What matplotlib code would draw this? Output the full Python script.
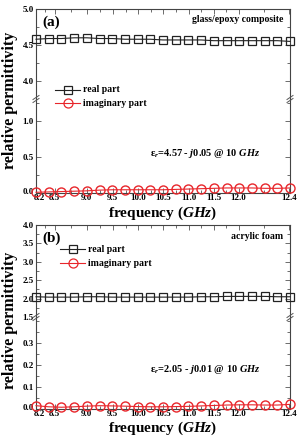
import matplotlib
matplotlib.use("Agg")
import matplotlib.pyplot as plt
import matplotlib.transforms as mtransforms
import numpy as np
from matplotlib.ticker import FixedLocator, MultipleLocator

plt.rcParams['font.family'] = ['Liberation Serif', 'DejaVu Serif']
plt.rcParams['font.weight'] = 'bold'
plt.rcParams['mathtext.fontset'] = 'custom'
plt.rcParams['mathtext.rm'] = 'Liberation Serif:bold'
plt.rcParams['mathtext.it'] = 'Liberation Serif:bold:italic'
plt.rcParams['mathtext.bf'] = 'Liberation Serif:bold'

# ---- data ----
freq = [8.2, 8.41, 8.62, 8.83, 9.04, 9.25, 9.46, 9.67, 9.88, 10.09, 10.3,
        10.51, 10.72, 10.93, 11.14, 11.35, 11.56, 11.77, 11.98, 12.19, 12.4]

glass_real = [4.58, 4.59, 4.59, 4.60, 4.60, 4.59, 4.59, 4.58, 4.58, 4.58, 4.57,
              4.57, 4.57, 4.57, 4.56, 4.56, 4.56, 4.56, 4.56, 4.56, 4.55]
glass_imag = [0.010, 0.015, 0.020, 0.025, 0.030, 0.040, 0.045, 0.045, 0.045, 0.045, 0.045,
              0.050, 0.055, 0.060, 0.065, 0.070, 0.070, 0.070, 0.065, 0.065, 0.070]

foam_real = [2.05, 2.04, 2.04, 2.04, 2.05, 2.05, 2.04, 2.04, 2.04, 2.04, 2.04,
             2.04, 2.04, 2.05, 2.05, 2.06, 2.06, 2.06, 2.06, 2.05, 2.05]
foam_imag = [0.015, 0.010, 0.008, 0.010, 0.013, 0.015, 0.014, 0.013, 0.011, 0.010, 0.010,
             0.011, 0.012, 0.014, 0.016, 0.018, 0.019, 0.019, 0.018, 0.018, 0.021]

xtick_pos = [8.2, 8.51, 9.04, 9.47, 9.89, 10.30, 10.73, 11.14, 11.55, 12.38]
xtick_labels = ['8.2', '8.5', '9.0', '9.5', '10.0', '10.5', '11.0', '11.5', '12.0', '12.4']

RED = '#e8262b'
W, H = 299, 437
fig = plt.figure(figsize=(W / 100, H / 100), dpi=100)

def fx(px):
    return px / W

def fy(py):
    return 1 - py / H

left, right = 36, 290

def make_panel(top_px, brk_px, bot_px, up_lim, low_lim, up_major, up_minor,
               low_major, low_minor, real, imag, label, material, note,
               leg_y, leg_x, label_y, freq_y):
    ax_u = fig.add_axes([fx(left), fy(brk_px), fx(right - left), (brk_px - top_px) / H])
    ax_l = fig.add_axes([fx(left), fy(bot_px), fx(right - left), (bot_px - brk_px) / H])
    for ax in (ax_u, ax_l):
        ax.set_xlim(8.2, 12.4)
        ax.xaxis.set_major_locator(FixedLocator(xtick_pos))
        mids = [(a + b) / 2 for a, b in zip(xtick_pos[:-1], xtick_pos[1:])]
        ax.xaxis.set_minor_locator(FixedLocator(mids))
        ax.tick_params(which='both', direction='in', top=True, right=True,
                       labelsize=6.5, width=0.6, color='#555555')
        ax.tick_params(which='major', length=3.5)
        ax.tick_params(which='minor', length=2)
        for s in ax.spines.values():
            s.set_linewidth(0.8)
            s.set_color('#444444')
    ax_u.plot(freq, real, '-s', color='#222222', mfc='none', mec='#222222',
              ms=6, mew=0.9, lw=0.8, clip_on=False, zorder=3)
    ax_l.plot(freq, imag, '-o', color=RED, mfc='none', mec=RED,
              ms=6.5, mew=1.0, lw=0.8, clip_on=False, zorder=3)
    ax_u.set_ylim(*up_lim)
    ax_l.set_ylim(*low_lim)
    ax_u.yaxis.set_major_locator(FixedLocator(up_major))
    ax_u.yaxis.set_minor_locator(MultipleLocator(up_minor))
    ax_l.yaxis.set_major_locator(FixedLocator(low_major))
    ax_l.yaxis.set_minor_locator(MultipleLocator(low_minor))
    ax_u.yaxis.set_major_formatter('{x:.1f}')
    ax_l.yaxis.set_major_formatter('{x:.1f}')
    ax_u.spines['bottom'].set_visible(False)
    ax_l.spines['top'].set_visible(False)
    ax_u.tick_params(which='both', bottom=False, labelbottom=False)
    ax_l.tick_params(which='both', top=False)
    ax_l.set_xticklabels(xtick_labels)
    for t in ax_l.get_xticklabels() + ax_l.get_yticklabels() + ax_u.get_yticklabels():
        t.set_fontweight('bold')
    ax_l.tick_params(axis='x', pad=1)
    ax_l.tick_params(axis='y', pad=1.5)
    ax_u.tick_params(axis='y', pad=1.5)
    # nudge corner labels apart
    off = mtransforms.ScaledTranslation(3 / 100, 0, fig.dpi_scale_trans)
    lab0 = ax_l.get_xticklabels()[0]
    lab0.set_transform(lab0.get_transform() + off)
    offy = mtransforms.ScaledTranslation(0, 1.5 / 100, fig.dpi_scale_trans)
    ylab0 = ax_l.get_yticklabels()[0]
    ylab0.set_transform(ylab0.get_transform() + offy)
    # break marks
    for xp in (left, right):
        for dy in (-1.5, 1.5):
            fig.add_artist(plt.Line2D([fx(xp - 3), fx(xp + 3)],
                                      [fy(brk_px + dy + 2), fy(brk_px + dy - 2)],
                                      color='#555555', lw=0.7))
    # texts
    fig.text(fx(42), fy(top_px + 13), label, fontsize=11, fontweight='bold', va='center')
    fig.text(fx(283), fy(top_px + 11), material, fontsize=7, fontweight='bold',
             ha='right', va='center')
    fig.text(fx(150), fy(note[1]), note[0], fontsize=7.5, fontweight='bold', va='center')
    # legend
    for i, (mk, col, txt) in enumerate([('s', '#222222', 'real part'),
                                         ('o', RED, 'imaginary part')]):
        yy = fy(leg_y[i])
        fig.add_artist(plt.Line2D([fx(leg_x), fx(leg_x + 25)], [yy, yy], color=col, lw=0.8))
        fig.add_artist(plt.Line2D([fx(leg_x + 12.5)], [yy], marker=mk, color=col,
                                  mfc='none', mec=col, ms=6 if mk == 's' else 6.5, mew=0.9))
        fig.text(fx(leg_x + 28), yy, txt, fontsize=7, fontweight='bold', va='center')
    fig.text(fx(10), fy(label_y), 'relative permittivity', rotation=90, fontsize=11.5,
             fontweight='bold', ha='center', va='center')
    fig.text(fx(163), fy(freq_y), r'frequency ($GHz$)', fontsize=11, fontweight='bold',
             ha='center', va='center')

make_panel(9, 99, 193, (3.75, 5.0), (0, 1.306), [4.0, 4.5, 5.0], 0.25,
           [0.0, 0.5, 1.0], 0.25,
           glass_real, glass_imag, '(a)', 'glass/epoxy composite',
           (r'ε$_r$=4.57 - $j$0.05 @ 10 $GHz$', 153), (90, 103), 55, 100, 213)
make_panel(225, 317, 409, (1.5, 4.0), (0, 0.418), [1.5, 2.0, 2.5, 3.0, 3.5, 4.0], 0.25,
           [0.0, 0.1, 0.2, 0.3], 0.05,
           foam_real, foam_imag, '(b)', 'acrylic foam',
           (r'ε$_r$=2.05 - $j$0.01 @ 10 $GHz$', 370), (249, 263), 60, 320, 428)

fig.savefig('out.png', dpi=100)
